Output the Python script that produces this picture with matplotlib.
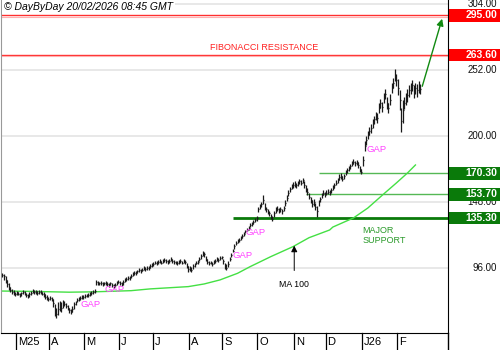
import numpy as np
import pandas as pd
import matplotlib
matplotlib.use("Agg")
import matplotlib.pyplot as plt
import matplotlib.transforms as mtrans

plt.rcParams['font.family'] = ['Liberation Sans', 'DejaVu Sans']

# trading days shown on the chart
dates = pd.bdate_range('2025-02-18', '2026-02-20')

# daily closes, one line per month (Feb 25 ... Feb 26)
closes = [
    90.2, 89.4, 86.3, 83.1, 80.7, 78.4, 76.8, 76.0, 75.2,
    76.5, 75.0, 74.2, 75.8, 77.0, 75.5, 74.0, 73.5, 75.0, 76.2, 77.5, 76.8, 77.3, 76.0, 77.0, 76.5, 75.5, 74.8, 73.0, 72.0, 71.5,
    72.0, 71.0, 68.0, 62.0, 59.0, 63.0, 66.0, 64.0, 68.0, 67.5, 66.0, 64.5, 62.5, 61.0, 63.0, 67.0, 68.5, 70.5, 71.5, 72.0, 72.5, 73.0,
    73.5, 74.0, 74.5, 75.0, 76.0, 77.0, 77.5, 84.5, 84.0, 83.5, 84.0, 83.0, 83.5, 84.0, 83.0, 82.5, 83.5, 82.0, 81.5, 82.5, 84.0, 85.0,
    84.0, 83.0, 84.5, 86.0, 87.0, 88.0, 87.5, 89.5, 91.0, 92.0, 91.5, 93.0, 94.0, 93.5, 94.5, 95.5, 95.0, 96.0, 95.5, 97.0, 98.0,
    99.0, 100.0, 99.5, 100.5, 101.0, 100.0, 101.5, 102.0, 101.0, 100.5, 101.5, 102.5, 101.5, 100.5, 100.0, 99.5, 100.5, 101.0, 100.0, 101.5, 100.5, 97.5, 95.0,
    95.5, 94.5, 97.0, 98.5, 100.0, 100.5, 103.0, 105.0, 107.0, 106.5, 103.0, 100.5, 99.5, 100.0, 99.0, 100.5, 101.5, 103.0, 102.0, 103.5, 104.0,
    101.0, 97.0, 96.0, 99.0, 103.0, 106.0, 109.5, 113.0, 115.5, 117.0, 118.0, 119.5, 121.0, 122.5, 124.5, 126.0, 127.5, 129.5, 130.5, 132.0, 133.5, 135.0,
    142.0, 144.5, 146.0, 149.0, 144.0, 142.0, 140.0, 139.0, 136.0, 134.5, 139.0, 141.5, 142.5, 141.0, 142.0, 140.5, 143.0, 147.0, 151.0, 155.0, 158.0, 160.0, 161.0,
    162.0, 161.0, 162.5, 164.0, 163.0, 165.0, 161.0, 158.0, 156.0, 152.0, 149.5, 146.0, 148.0, 144.0, 141.0, 147.0, 150.0, 153.0, 155.0, 154.0,
    155.0, 156.0, 155.5, 157.0, 159.0, 161.0, 163.0, 165.0, 167.5, 168.5, 166.0, 168.0, 171.0, 173.0, 174.5, 176.0, 178.0, 179.5, 178.5, 179.0, 177.0, 174.0, 171.5,
    181.0, 192.0, 197.0, 201.0, 204.0, 206.0, 210.0, 213.0, 216.0, 214.0, 222.0, 226.0, 223.0, 230.0, 233.0, 226.0, 222.0, 228.0, 238.0, 242.0, 248.0, 244.0,
    238.0, 228.0, 212.0, 220.0, 226.0, 229.0, 232.0, 236.0, 238.0, 240.0, 234.0, 238.0, 236.0, 239.0, 237.0,
]
highs = [
    92.0, 91.0, 89.5, 86.5, 83.5, 81.0, 79.0, 78.0, 77.0,
    77.5, 77.0, 76.0, 77.0, 78.5, 77.5, 76.0, 75.5, 76.5, 77.5, 79.0, 78.5, 78.5, 77.5, 78.5, 78.0, 77.0, 76.5, 75.0, 74.0, 73.0,
    73.5, 73.0, 71.5, 67.0, 64.0, 68.5, 70.0, 69.0, 70.5, 70.0, 68.0, 66.5, 64.5, 63.5, 65.5, 68.5, 70.0, 72.0, 73.0, 73.5, 74.0, 74.5,
    75.0, 75.5, 76.0, 76.5, 77.5, 78.5, 79.0, 86.0, 85.5, 85.0, 85.5, 84.5, 85.0, 85.5, 84.5, 84.0, 85.0, 83.5, 83.0, 84.0, 85.5, 86.5,
    85.5, 85.0, 86.0, 87.5, 88.5, 89.5, 89.0, 91.0, 92.5, 93.5, 93.0, 94.5, 95.5, 95.0, 96.0, 97.0, 96.5, 97.5, 97.0, 98.5, 99.5,
    100.5, 101.5, 101.0, 102.0, 102.5, 101.5, 103.0, 103.5, 102.5, 102.0, 103.0, 104.0, 103.0, 102.0, 101.5, 101.0, 102.0, 102.5, 101.5, 103.0, 102.0, 100.0, 97.0,
    97.5, 96.5, 98.5, 100.0, 101.5, 102.0, 104.5, 106.5, 109.0, 108.5, 105.5, 102.5, 101.0, 101.5, 100.5, 102.0, 103.0, 104.5, 103.5, 105.0, 105.5,
    103.0, 100.0, 98.5, 101.0, 104.5, 107.5, 111.0, 114.5, 117.0, 118.5, 119.5, 121.0, 122.5, 124.0, 126.0, 127.5, 129.0, 131.0, 132.0, 133.5, 135.0, 136.5,
    143.5, 146.5, 148.0, 153.5, 147.0, 144.0, 142.0, 141.0, 138.5, 137.0, 141.0, 143.5, 144.5, 143.0, 144.0, 142.5, 145.0, 149.0, 153.0, 157.0, 160.0, 162.0, 163.5,
    164.0, 163.0, 164.5, 166.0, 165.0, 167.0, 164.5, 161.0, 158.5, 155.0, 152.0, 149.0, 150.5, 147.0, 145.0, 149.0, 152.0, 155.0, 157.0, 156.0,
    157.0, 158.0, 157.5, 159.0, 161.0, 163.0, 165.0, 167.0, 169.5, 170.5, 168.5, 170.0, 173.0, 175.0, 176.5, 178.0, 180.0, 181.5, 180.5, 181.0, 179.5, 176.5, 174.0,
    184.0, 196.0, 200.0, 204.0, 207.0, 209.0, 213.0, 216.0, 219.0, 218.0, 226.0, 229.0, 227.0, 234.0, 237.0, 231.0, 226.0, 233.0, 242.0, 246.0, 252.5, 249.0,
    245.0, 236.0, 222.0, 228.0, 231.0, 234.0, 237.0, 240.0, 242.0, 244.0, 240.0, 242.0, 241.0, 243.0, 241.0,
]
lows = [
    88.5, 86.0, 84.0, 81.0, 78.5, 76.5, 75.0, 74.0, 73.5,
    74.5, 74.0, 72.5, 73.5, 75.5, 74.0, 72.5, 72.0, 73.0, 74.5, 76.0, 75.5, 75.5, 74.5, 75.5, 75.0, 74.0, 73.0, 71.5, 70.5, 70.0,
    70.5, 69.5, 65.0, 58.0, 56.5, 58.5, 61.5, 61.0, 64.0, 65.5, 64.0, 62.5, 60.5, 59.5, 61.0, 63.5, 66.5, 68.5, 70.0, 70.5, 71.0, 71.5,
    72.0, 72.5, 73.0, 73.5, 74.5, 75.5, 76.0, 82.5, 82.5, 82.0, 82.5, 81.5, 82.0, 82.5, 81.5, 81.0, 82.0, 80.5, 80.0, 81.0, 82.5, 83.5,
    82.5, 81.5, 82.5, 84.5, 85.5, 86.5, 86.0, 87.5, 89.5, 90.5, 90.0, 91.5, 92.5, 92.0, 93.0, 94.0, 93.5, 94.5, 94.0, 95.5, 96.5,
    97.5, 98.5, 98.0, 99.0, 99.5, 98.5, 100.0, 100.5, 99.5, 99.0, 100.0, 101.0, 100.0, 99.0, 98.5, 98.0, 99.0, 99.5, 98.5, 100.0, 98.5, 95.5, 92.5,
    93.5, 92.5, 95.0, 96.5, 98.5, 99.0, 101.0, 103.0, 105.0, 104.5, 101.0, 99.0, 98.0, 98.5, 97.5, 99.0, 100.0, 101.5, 100.5, 102.0, 102.5,
    99.0, 95.0, 94.0, 96.5, 101.0, 104.0, 108.0, 111.0, 113.5, 115.5, 116.5, 118.0, 119.5, 121.0, 123.0, 124.5, 126.0, 128.0, 129.0, 130.5, 132.0, 133.0,
    140.0, 142.0, 144.0, 146.5, 141.5, 140.0, 138.0, 136.5, 134.0, 132.5, 136.0, 139.0, 140.5, 139.0, 140.0, 138.5, 141.0, 144.5, 148.5, 152.5, 156.0, 158.0, 159.0,
    160.0, 159.0, 160.5, 162.0, 161.0, 162.5, 159.0, 156.0, 153.5, 150.0, 147.0, 144.0, 145.0, 141.5, 136.0, 144.5, 148.0, 151.0, 153.0, 152.0,
    153.0, 154.0, 153.5, 155.0, 157.0, 159.0, 161.0, 163.0, 165.5, 166.0, 164.0, 166.0, 169.0, 171.0, 172.5, 174.0, 176.0, 177.5, 176.5, 177.0, 174.5, 171.5, 170.0,
    176.0, 188.0, 193.0, 197.5, 200.5, 202.5, 206.5, 209.5, 212.5, 210.5, 218.0, 222.0, 219.0, 226.0, 229.0, 221.0, 218.0, 224.0, 234.0, 238.0, 243.0, 239.0,
    232.0, 220.0, 203.0, 210.0, 221.0, 224.0, 227.0, 231.0, 233.0, 235.0, 230.0, 233.0, 231.0, 234.0, 233.0,
]

# 100-day moving average, read at a few bar positions
ma_pos = [0, 20, 42, 58, 81, 93, 117, 127, 137, 148, 156, 169, 183, 193, 206, 208, 221, 230, 240, 248, 255, 260]
ma_val = [77.5, 77.2, 76.6, 76.9, 77.8, 79.2, 81.0, 83.1, 86.3, 91.5, 96.8, 104.7, 112.6, 119.6, 125.7, 128.0, 135.2, 143.0, 154.1, 162.8, 170.7, 177.0]

resistances = [295.00, 263.60]
supports = [170.30, 153.70, 135.30]
support_start = [199, 191, 145]
grid_levels = [96, 148, 200, 252, 304]
month_names = ['M25', 'A', 'M', 'J', 'J', 'A', 'S', 'O', 'N', 'D', 'J26', 'F']
gap_pos = [49, 64, 145, 153, 229.5]
gap_val = [66.5, 78.4, 105.2, 124.0, 188.9]

assert len(closes) == len(highs) == len(lows) == len(dates)
idx = np.arange(len(dates))

fig = plt.figure(figsize=(5, 3.5), dpi=100)
ax = fig.add_axes([0.002, 0.0486, 0.894, 0.9514])
ax.set_xlim(-0.9, 280.5)
ax.set_ylim(44.4, 307.2)

for g in grid_levels:
    ax.axhline(g, color='#e4e4e4', lw=1.2, zorder=0)

# resistance lines
for r in resistances:
    ax.axhline(r, color='#ff3030', lw=1.0, zorder=1)
    ax.axhline(r - 0.9, color='#ffb0b0', lw=0.8, zorder=1)
ax.text(165, 270.0, 'FIBONACCI RESISTANCE', color='#ff2020', fontsize=6.5, ha='center', va='center')

# support lines
ax.hlines(supports[0], support_start[0], 280.5, color='#55b855', lw=1.0, zorder=1)
ax.hlines(supports[1], support_start[1], 280.5, color='#55b855', lw=1.0, zorder=1)
ax.hlines(supports[2], support_start[2], 280.5, color='#0a7a0a', lw=2.0, zorder=1)
ax.text(226.5, 128.5, 'MAJOR\nSUPPORT', color='#2a9a2a', fontsize=6.5, ha='left', va='top', linespacing=1.05)

# moving average
ax.plot(ma_pos, ma_val, color='#44e044', lw=1.0, zorder=2)
ax.annotate('', xy=(183.7, 115.5), xytext=(183.7, 91.5),
            arrowprops=dict(arrowstyle='-|>', color='black', lw=0.7, mutation_scale=9))
ax.text(183.7, 82.3, 'MA 100', fontsize=6.3, ha='center', va='center')

# OHLC bars
ax.vlines(idx, lows, highs, color='#1a1a1a', lw=0.9, zorder=3)
ax.hlines(closes, idx, idx + 0.6, color='#1a1a1a', lw=0.9, zorder=3)

for gx, gy in zip(gap_pos, gap_val):
    ax.text(gx, gy, 'GAP', color='#ff44ff', fontsize=6.8, ha='left', va='center', zorder=4)

# projection arrow
ax.annotate('', xy=(277.3, 294.5), xytext=(263.8, 237),
            arrowprops=dict(arrowstyle='-|>', color='#118a11', lw=1.0, mutation_scale=10))

ax.set_xticks([])
ax.set_yticks([])
ax.spines['top'].set_visible(False)
ax.spines['left'].set_color('#999999')
ax.spines['bottom'].set_color('black')
ax.spines['right'].set_color('black')

# month row under the plot
blend_x = mtrans.blended_transform_factory(ax.transData, ax.transAxes)
month_starts = [i for i in range(1, len(dates)) if dates[i].month != dates[i - 1].month]
for name, m in zip(month_names, month_starts):
    ax.plot([m - 0.5, m - 0.5], [0, -0.052], color='black', lw=0.9, transform=blend_x, clip_on=False)
    ax.text(m + 0.6, -0.026, name, fontsize=8, ha='left', va='center', transform=blend_x)
ax.plot([1, 1], [0, -0.052], color='black', lw=1.0, transform=ax.transAxes, clip_on=False)

# price scale on the right
blend_y = mtrans.blended_transform_factory(fig.transFigure, ax.transData)
for g in grid_levels:
    ax.text(0.994, g, '%.2f' % g, fontsize=7, ha='right', va='center', transform=blend_y,
            color='#111111', clip_on=False)
box_h = 9.8
for lv, col in zip(resistances + supports, ['#ff0000'] * 2 + ['#0a7a0a'] * 3):
    ax.add_patch(plt.Rectangle((0.897, lv - box_h / 2), 0.103, box_h, transform=blend_y,
                               facecolor=col, edgecolor='none', zorder=8, clip_on=False))
    ax.text(0.994, lv, '%.2f' % lv, fontsize=7.5, fontweight='bold', color='white',
            ha='right', va='center', transform=blend_y, zorder=9, clip_on=False)

# title stamp
fig.text(0.008, 0.981, '\u00a9 DayByDay 20/02/2026 08:45 GMT', fontsize=7.5, style='italic',
         ha='left', va='center', bbox=dict(facecolor='white', edgecolor='none', pad=1.5))

fig.savefig('out.png', dpi=100)
